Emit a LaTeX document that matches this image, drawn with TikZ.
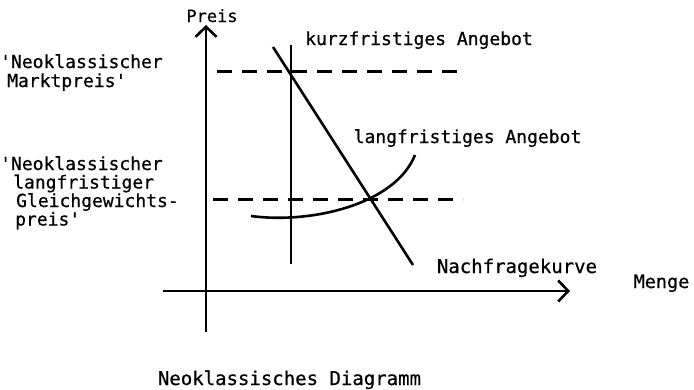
\documentclass[tikz,border=0pt]{standalone}
\usepackage{fontspec}
\newfontfamily\typew[FakeBold=0.6]{DejaVu Sans Mono}
\usetikzlibrary{arrows.meta}
\begin{document}
\begin{tikzpicture}[x=1pt,y=-1pt,
  lbl/.style={inner sep=0pt,font=\typew\fontsize{18}{18}\selectfont},
  lblb/.style={inner sep=0pt,font=\typew\fontsize{19}{19}\selectfont},
  axisline/.style={line width=2.6pt,-{Straight Barb[length=10pt,width=21pt,line width=2.6pt]}},
  solidline/.style={line width=2.6pt},
  dashline/.style={line width=3pt,dash pattern=on 15pt off 10pt}]
\useasboundingbox (0,0) rectangle (694,389);
% coordinates
\coordinate (ybot) at (206,332);
\coordinate (ytop) at (206,25);
\coordinate (xl) at (163,291);
\coordinate (xr) at (570,291);
\coordinate (srtop) at (291,45);
\coordinate (srbot) at (291,264);
\coordinate (dtop) at (273,47);
\coordinate (dbot) at (413,265);
\coordinate (d1l) at (217,71);
\coordinate (d1r) at (462,71);
\coordinate (d2l) at (213,199);
\coordinate (d2r) at (463,199);
\coordinate (lrs) at (251,216);
\coordinate (lre) at (415,155);
% axes
\draw[axisline] (ybot) -- (ytop);
\draw[axisline] (xl) -- (xr);
% curves
\draw[solidline] (srtop) -- (srbot);
\draw[solidline] (dtop) -- (dbot);
\draw[dashline] (d1l) -- (d1r);
\draw[dashline] (d2l) -- (d2r);
\draw[solidline] (lrs) .. controls (310,224) and (395,205) .. (lre);
% labels
\node[lbl,anchor=base,font=\typew\fontsize{17}{17}\selectfont] (preis) at (212,22) {Preis};
\node[lbl,anchor=base] (kurz) at (419,45) {kurzfristiges Angebot};
\node[lbl,anchor=base] (lang) at (467.5,143) {langfristiges Angebot};
\node[lblb,anchor=base] (nachfrage) at (517,273) {Nachfragekurve};
\node[lbl,anchor=base,font=\typew\fontsize{18.5}{18.5}\selectfont] (menge) at (661.5,288) {Menge};
\node[lbl,anchor=base west] (nk1) at (0,68) {'Neoklassischer};
\node[lbl,anchor=base west] (nk2) at (7,87) {Marktpreis'};
\node[lbl,anchor=base west] (nl1) at (0,170) {'Neoklassischer};
\node[lbl,anchor=base west] (nl2) at (13,188.5) {langfristiger};
\node[lbl,anchor=base west] (nl3) at (16,207) {Gleichgewichts-};
\node[lbl,anchor=base west] (nl4) at (15,225.5) {preis'};
\node[lblb,anchor=base] (caption) at (289.5,385) {Neoklassisches Diagramm};
\end{tikzpicture}
\end{document}
